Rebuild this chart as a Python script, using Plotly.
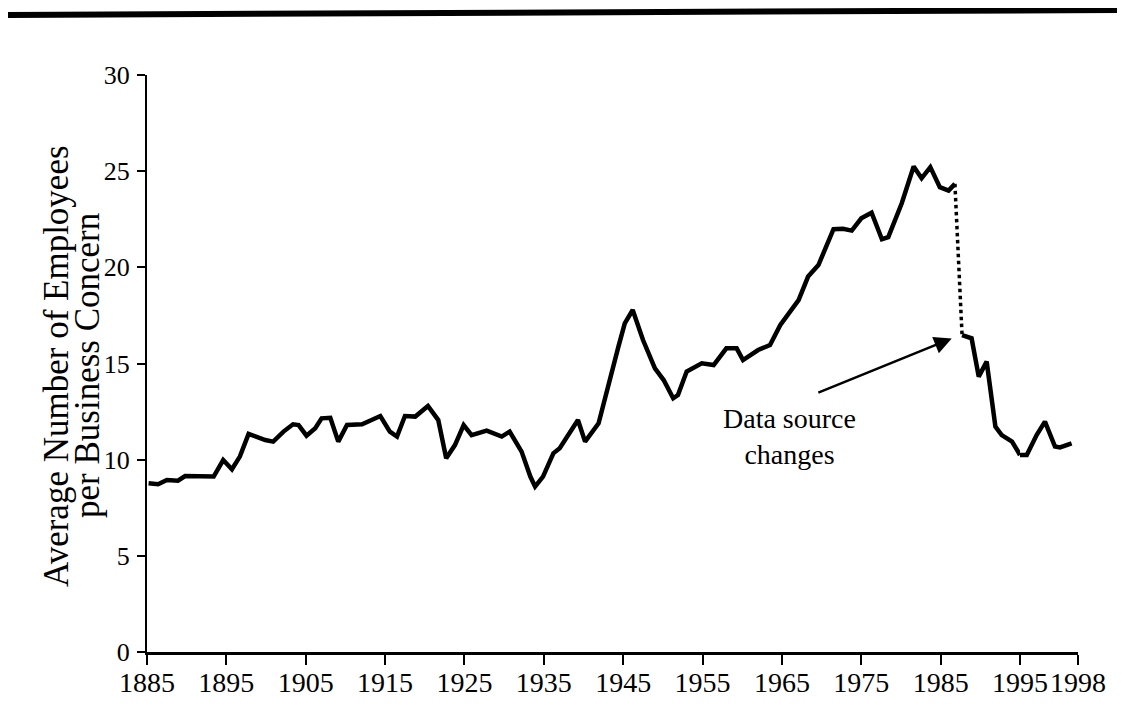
import plotly.graph_objects as go

# ---- data ----
# series from the original source (up to the data-source change)
years_old = [1885.2, 1886.4, 1887.5, 1888.9, 1889.8, 1893.4, 1894.6, 1895.7, 1896.7, 1897.8,
             1899.9, 1900.9, 1902.2, 1903.4, 1904.1, 1905.1, 1906.2, 1907.0, 1908.1, 1909.1,
             1910.2, 1912.1, 1914.4, 1915.6, 1916.5, 1917.5, 1918.8, 1920.4, 1921.7, 1922.7,
             1923.8, 1924.9, 1925.9, 1927.8, 1929.7, 1930.7, 1932.2, 1933.3, 1933.9, 1934.9,
             1936.2, 1937.0, 1939.3, 1940.2, 1941.9, 1943.3, 1944.4, 1945.2, 1946.2, 1947.5,
             1949.0, 1950.1, 1951.3, 1951.9, 1953.0, 1954.9, 1956.4, 1958.0, 1959.3, 1960.1,
             1962.0, 1963.5, 1964.8, 1967.1, 1968.3, 1969.6, 1970.6, 1971.5, 1972.7, 1973.8,
             1975.0, 1976.3, 1977.6, 1978.4, 1980.1, 1981.6, 1982.6, 1983.7, 1984.9, 1986.0,
             1986.8]
values_old = [8.77, 8.72, 8.94, 8.91, 9.15, 9.12, 9.98, 9.50, 10.16, 11.34,
              11.02, 10.94, 11.46, 11.84, 11.80, 11.25, 11.63, 12.15, 12.18, 10.94,
              11.80, 11.84, 12.27, 11.46, 11.20, 12.27, 12.24, 12.79, 12.06, 10.07,
              10.76, 11.80, 11.28, 11.51, 11.20, 11.46, 10.42, 9.12, 8.60, 9.12,
              10.33, 10.59, 12.06, 10.94, 11.89, 14.23, 15.88, 17.09, 17.78, 16.22,
              14.75, 14.14, 13.19, 13.36, 14.58, 15.01, 14.92, 15.79, 15.79, 15.18,
              15.70, 15.96, 17.00, 18.30, 19.52, 20.12, 21.08, 21.98, 22.00, 21.91,
              22.55, 22.84, 21.46, 21.57, 23.33, 25.24, 24.63, 25.21, 24.17, 23.99,
              24.34]
# series from the new source
years_new = [1987.7, 1988.9, 1989.8, 1990.8, 1991.9, 1992.7, 1994.0, 1995.0,
             1995.35, 1995.86, 1996.29, 1996.81, 1997.07, 1997.67]
values_new = [16.48, 16.31, 14.32, 15.10, 11.72, 11.28, 10.94, 10.24,
              10.24, 11.28, 11.98, 10.68, 10.64, 10.85]

x_ticks_main = [1885, 1895, 1905, 1915, 1925, 1935, 1945, 1955, 1965, 1975, 1985, 1995]
x_ticks_end = [1998]
y_ticks = [0, 5, 10, 15, 20, 25, 30]

y_title_1 = "Average Number of Employees"
y_title_2 = "per Business Concern"
note_text = "Data source<br>changes"

# ---- geometry (page has an 8px body margin) ----
OFF = 8
W, H = 1125 - 2 * OFF, 707 - 2 * OFF
PLOT_L, PLOT_R, PLOT_T, PLOT_B = 147, 1078, 75, 652      # page pixels
ML, MT = PLOT_L - OFF, PLOT_T - OFF
MR, MB = W - (PLOT_R - OFF), H - (PLOT_B - OFF)
PW, PH = PLOT_R - PLOT_L, PLOT_B - PLOT_T
split = (1020 - PLOT_L) / PW
FONT = "Liberation Serif"

fig = go.Figure()

new_a_x = [x for x in years_new if x <= 1995]
new_a_y = [v for x, v in zip(years_new, values_new) if x <= 1995]
new_b_x = [x for x in years_new if x >= 1995]
new_b_y = [v for x, v in zip(years_new, values_new) if x >= 1995]

line = dict(color="black", width=4.5)
fig.add_trace(go.Scatter(x=years_old, y=values_old, mode="lines", line=line,
                         xaxis="x", yaxis="y", hoverinfo="skip"))
fig.add_trace(go.Scatter(x=[years_old[-1], years_new[0]], y=[values_old[-1], values_new[0]],
                         mode="lines", line=dict(color="black", width=3.5, dash="dot"),
                         xaxis="x", yaxis="y", hoverinfo="skip"))
fig.add_trace(go.Scatter(x=new_a_x, y=new_a_y, mode="lines", line=line,
                         xaxis="x", yaxis="y", hoverinfo="skip"))
fig.add_trace(go.Scatter(x=new_b_x, y=new_b_y, mode="lines", line=line,
                         xaxis="x2", yaxis="y", hoverinfo="skip"))

xtickfont = dict(family=FONT, size=28, color="black")
ytickfont = dict(family=FONT, size=26, color="black")
xcommon = dict(showline=True, linecolor="black", linewidth=3, ticks="outside",
               ticklen=10, tickwidth=2, tickcolor="black", showgrid=False,
               zeroline=False, tickfont=xtickfont, anchor="y", automargin=False,
               ticklabelstandoff=-7)
fig.update_layout(
    width=W, height=H, showlegend=False,
    paper_bgcolor="white", plot_bgcolor="white",
    margin=dict(l=ML, r=MR, t=MT, b=MB),
    xaxis=dict(domain=[0, split], range=[1885, 1995], tickvals=x_ticks_main, **xcommon),
    xaxis2=dict(domain=[split, 1], range=[1995, 1998], tickvals=x_ticks_end, **xcommon),
    yaxis=dict(range=[0, 30], tickvals=y_ticks, showline=True, linecolor="black",
               linewidth=2, ticks="outside", ticklen=8, tickwidth=2, tickcolor="black",
               showgrid=False, zeroline=False, tickfont=ytickfont, anchor="x",
               ticklabelstandoff=2, automargin=False),
)

# y-axis title (two lines, rotated)
for txt, px in [(y_title_1, 56), (y_title_2, 87)]:
    fig.add_annotation(text=txt, xref="paper", yref="paper",
                       x=(px - PLOT_L) / PW, y=(PLOT_B - 366) / PH,
                       xanchor="center", yanchor="middle",
                       textangle=-90, showarrow=False,
                       font=dict(family=FONT, size=35, color="black"))

# note with arrow
fig.add_annotation(x=1986.4, y=16.3, ax=1969.4, ay=13.45, xref="x", yref="y",
                   axref="x", ayref="y", text="", showarrow=True, arrowhead=2,
                   arrowsize=1.4, arrowwidth=2.5, arrowcolor="black")
fig.add_annotation(x=1966.0, y=11.2, xref="x", yref="y", text=note_text,
                   showarrow=False, align="center",
                   font=dict(family=FONT, size=28, color="black"))

# thick rule at top of page
fig.add_shape(type="line", xref="paper", yref="paper",
              x0=(0 - PLOT_L) / PW, x1=(1125 - PLOT_L) / PW,
              y0=(PLOT_B - 15) / PH, y1=(PLOT_B - 10) / PH,
              line=dict(color="black", width=6))

fig.write_html("out.html")
